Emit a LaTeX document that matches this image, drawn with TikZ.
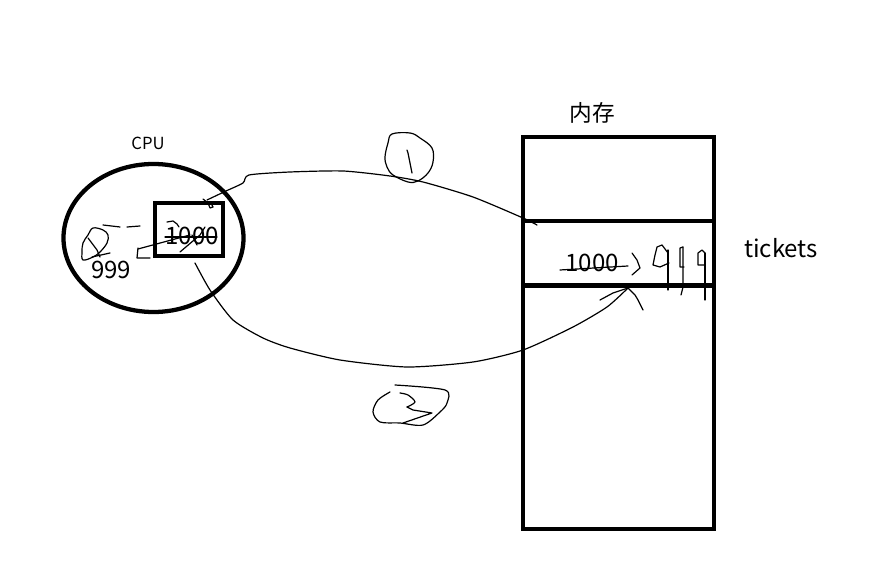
\documentclass[tikz,border=0pt]{standalone}
\usepackage{fontspec}
\newfontfamily\cjk{Noto Sans CJK SC}
\usetikzlibrary{shapes.geometric}

\tikzset{
  wall/.style={draw, line width=3.2pt},
  pen/.style={line width=0.9pt, line join=round, line cap=round},
  lbl/.style={inner sep=0pt, anchor=base},
}

\begin{document}
\begin{tikzpicture}[x=0.75pt, y=-0.75pt]
  \useasboundingbox (0,0) rectangle (888,580);

  % cpu side
  \node[wall, ellipse, minimum width=135pt, minimum height=111pt] (cpu) at (153.5,238) {};
  \node[wall, minimum width=51pt, minimum height=39.75pt] (reg) at (189,229.5) {};
  \node[lbl, font=\cjk\fontsize{12.5}{12.5}\selectfont] (cpulbl) at (148,150) {CPU};
  \node[lbl, font=\cjk\fontsize{18}{18}\selectfont] (regval) at (192,245) {1000};
  \node[lbl, font=\cjk\fontsize{18}{18}\selectfont] (newval) at (111,279) {999};

  % memory side
  \node[wall, minimum width=143.25pt, minimum height=294pt] (mem) at (618.5,333) {};
  \draw[line width=3.2pt] (mem.west |- 0,221) -- (mem.east |- 0,221);
  \draw[line width=3.2pt] (mem.west |- 0,285.5) -- (mem.east |- 0,285.5);
  \node[lbl, font=\cjk\fontsize{17}{17}\selectfont] (memlbl) at (592,122) {内存};
  \node[lbl, font=\cjk\fontsize{18}{18}\selectfont] (memval) at (592,272) {1000};
  \node[lbl, font=\cjk\fontsize{18}{18}\selectfont] (tickets) at (781,258) {tickets};

  % step 1: load
  \coordinate (ld1) at (207,200);
  \coordinate (ld2) at (537,225);
  \draw[pen] plot[smooth, tension=0.4] coordinates {(ld1) (226,191) (243,183) (249,175) (290,172) (343,171) (390,176) (423,182) (473,197) (523,218) (ld2)};
  \draw[pen] (203,199) -- (208,203) -- (210,208) -- (213,207) -- (211,203);
  \draw[pen] plot[smooth cycle, tension=0.6] coordinates {(392,134) (410,133) (420,138) (432,148) (433,162) (428,173) (418,181) (408,182) (393,175) (387,167) (385,157) (388,143)};
  \draw[pen] (407,150) -- (408,153) -- (412,173);

  % step 2: store
  \coordinate (st1) at (195,263);
  \coordinate (st2) at (628,288);
  \draw[pen] plot[smooth, tension=0.4] coordinates {(st1) (210,290) (233,320) (263,338) (290,348) (340,360) (407,367) (473,362) (523,350) (573,327) (607,307) (st2)};
  \draw[pen] (600,300) -- (613,293) -- (st2);
  \draw[pen] (st2) -- (635,295) -- (638,300) -- (643,310);
  \draw[pen] plot[smooth, tension=0.5] coordinates {(395,385) (445,390) (447,403) (440,412) (423,425) (400,423) (380,422) (373,412) (378,400) (390,392)};
  \draw[pen] plot[smooth, tension=0.5] coordinates {(400,393) (408,395) (415,402) (407,407)};
  \draw[pen] (407,407) -- (413,410) -- (432,413) -- (403,423);

  % scribbles in the cpu
  \draw[pen] (103,225) -- (120,227);
  \draw[pen] (127,227) -- (140,226);
  \draw[pen] plot[smooth cycle, tension=0.6] coordinates {(93,228) (103,230) (108,235) (107,243) (100,252) (93,257) (83,260) (82,252) (83,243) (88,235)};
  \draw[pen] (88,238) -- (97,250) -- (100,257);
  \draw[pen] (92,257) -- (110,253);
  \draw[pen] (138,248) -- (137,258) -- (150,258);
  \draw[pen] (138,249) -- (175,239) -- (190,235);
  \draw[pen] (167,222) -- (173,221) -- (177,224) -- (179,227);
  \draw[pen] (165,237) -- (217,237);
  \draw[pen] (180,252) -- (200,235) -- (205,227);
  \draw[pen] (192,235) -- (197,245);

  % scribbles in the memory
  \draw[pen] (560,270) -- (628,266);
  \draw[pen] (632,253) -- (637,260) -- (640,268) -- (632,275);
  \draw[pen] (668,253) -- (662,245) -- (657,247) -- (655,255) -- (653,265) -- (660,267) -- (669,263);
  \draw[pen] (668,250) -- (668,290);
  \draw[pen] (683,247) -- (680,248) -- (680,267) -- (684,267);
  \draw[pen] (683,247) -- (683,287) -- (681,295);
  \draw[pen] (705,253) -- (702,250) -- (698,253) -- (698,265) -- (704,265);
  \draw[pen] (705,253) -- (705,300);
\end{tikzpicture}
\end{document}
